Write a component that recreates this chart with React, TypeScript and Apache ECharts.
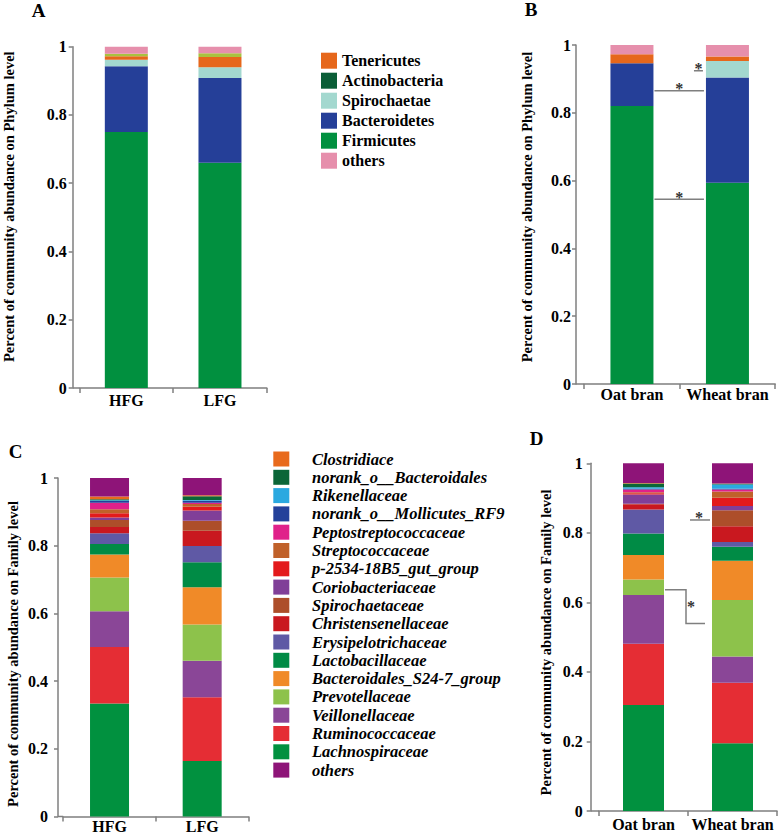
import React, { useEffect, useRef } from 'react';
import * as echarts from 'echarts';

const SERIF = '"Liberation Serif", "Times New Roman", Times, serif';
const AXIS = '#7f7f7f';

// ---------- data ----------
const catsA = ['HFG', 'LFG'];
const catsB = ['Oat bran', 'Wheat bran'];
const catsC = ['HFG', 'LFG'];
const catsD = ['Oat bran', 'Wheat bran'];

// phylum level, stacking order bottom -> top
const phyla = ['Firmicutes', 'Bacteroidetes', 'Spirochaetae', 'Tenericutes', 'Actinobacteria', 'others'];
const phylumColors = ['#01903f', '#253f98', '#a3d8cf', '#e6671b', '#a9c23f', '#e68fac'];
const phylumLegend = ['Tenericutes', 'Actinobacteria', 'Spirochaetae', 'Bacteroidetes', 'Firmicutes', 'others'];
const phylumLegendColors = ['#e6671b', '#0b5e37', '#a3d8cf', '#253f98', '#01903f', '#e68fac'];
const phylumHFG = [0.750, 0.193, 0.019, 0.010, 0.007, 0.021];
const phylumLFG = [0.660, 0.248, 0.032, 0.030, 0.011, 0.019];
const phylumOat = [0.820, 0.126, 0.000, 0.027, 0.000, 0.027];
const phylumWheat = [0.594, 0.310, 0.049, 0.013, 0.000, 0.034];

// family level, stacking order bottom -> top
const families = [
  'Lachnospiraceae', 'Ruminococcaceae', 'Veillonellaceae', 'Prevotellaceae',
  'Bacteroidales_S24-7_group', 'Lactobacillaceae', 'Erysipelotrichaceae', 'Christensenellaceae',
  'Spirochaetaceae', 'Coriobacteriaceae', 'p-2534-18B5_gut_group', 'Streptococcaceae',
  'Peptostreptococcaceae', 'norank_o__Mollicutes_RF9', 'Rikenellaceae', 'norank_o__Bacteroidales',
  'Clostridiace', 'others',
];
const familyColors = [
  '#01913f', '#e52d34', '#8a4697', '#8dc24b',
  '#f08a28', '#008b45', '#5f59a5', '#c9181f',
  '#ad4e2a', '#803f98', '#e31a1c', '#c0612a',
  '#e0218a', '#24419a', '#2aa9e0', '#0b6638',
  '#e86a1c', '#8e1478',
];
const familyLegend = [
  'Clostridiace', 'norank_o__Bacteroidales', 'Rikenellaceae', 'norank_o__Mollicutes_RF9',
  'Peptostreptococcaceae', 'Streptococcaceae', 'p-2534-18B5_gut_group', 'Coriobacteriaceae',
  'Spirochaetaceae', 'Christensenellaceae', 'Erysipelotrichaceae', 'Lactobacillaceae',
  'Bacteroidales_S24-7_group', 'Prevotellaceae', 'Veillonellaceae', 'Ruminococcaceae',
  'Lachnospiraceae', 'others',
];
const familyHFG = [0.334, 0.167, 0.105, 0.100, 0.068, 0.031, 0.032, 0.018, 0.021, 0.007, 0.013, 0.012, 0.019, 0.005, 0.002, 0.003, 0.008, 0.055];
const familyLFG = [0.164, 0.188, 0.108, 0.107, 0.110, 0.074, 0.048, 0.045, 0.030, 0.030, 0.011, 0.008, 0.004, 0.006, 0.002, 0.011, 0.003, 0.051];
const familyOat = [0.305, 0.176, 0.140, 0.045, 0.070, 0.062, 0.069, 0.015, 0.002, 0.026, 0.004, 0.003, 0.008, 0.002, 0.004, 0.011, 0.001, 0.057];
const familyWheat = [0.195, 0.174, 0.075, 0.163, 0.113, 0.040, 0.014, 0.045, 0.046, 0.012, 0.024, 0.018, 0.006, 0.002, 0.012, 0.002, 0.001, 0.058];

// significance marks (y values)
const sigSpanB = [0.865, 0.545];
const sigShortB = [0.924];
const sigLeadD = [0.837];
const sigElbowD = [0.636, 0.539];

const yNamePhylum = 'Percent of community abundance on Phylum level';
const yNameFamily = 'Percent of community abundance on Family level';

export default function App() {
  const ref = useRef<HTMLDivElement>(null);
  useEffect(() => {
    const chart = echarts.init(ref.current!, null, { renderer: 'svg' });

    const panels = [
      { cats: catsA, names: phyla, colors: phylumColors, values: [phylumHFG, phylumLFG], left: 79.5, width: 187.3, top: 46.7, height: 341.3, yOffset: 6.8, barWidth: 43, yMargin: 6, xMargin: 4 },
      { cats: catsB, names: phyla, colors: phylumColors, values: [phylumOat, phylumWheat], left: 584.2, width: 191, top: 45, height: 339, yOffset: 8.2, barWidth: 43, yMargin: 5, xMargin: 2 },
      { cats: catsC, names: families, colors: familyColors, values: [familyHFG, familyLFG], left: 63.2, width: 185.3, top: 478, height: 338.5, yOffset: 5.2, barWidth: 39, yMargin: 10, xMargin: 2 },
      { cats: catsD, names: families, colors: familyColors, values: [familyOat, familyWheat], left: 599, width: 178, top: 463.3, height: 347.7, yOffset: 8.3, barWidth: 41, yMargin: 8, xMargin: 5 },
    ];

    const labelFont = { color: '#000', fontFamily: SERIF, fontWeight: 'bold' as const, fontSize: 16 };

    const series: any[] = [];
    panels.forEach((p, i) => {
      p.names.forEach((name, k) => {
        series.push({
          type: 'bar', name, stack: 'S' + i, xAxisIndex: i, yAxisIndex: i,
          barWidth: p.barWidth,
          data: p.values.map((arr) => arr[k]),
          itemStyle: { color: p.colors[k] },
          silent: true,
        });
      });
    });

    chart.setOption({
      animation: false,
      grid: panels.map((p) => ({ left: p.left, top: p.top, width: p.width, height: p.height, containLabel: false, outerBoundsMode: 'none' })),
      xAxis: panels.map((p, i) => ({
        type: 'category', gridIndex: i, data: p.cats,
        axisLine: { show: true, lineStyle: { color: AXIS, width: 1.5 } },
        axisTick: { show: true, length: 5, lineStyle: { color: AXIS, width: 1.5 } },
        axisLabel: { ...labelFont, margin: p.xMargin, interval: 0 },
      })),
      yAxis: panels.map((p, i) => ({
        type: 'value', gridIndex: i, min: 0, max: 1, interval: 0.2, offset: p.yOffset,
        axisLine: { show: true, lineStyle: { color: AXIS, width: 1.5 } },
        axisTick: { show: true, length: 4, lineStyle: { color: AXIS, width: 1.5 } },
        splitLine: { show: false },
        axisLabel: { ...labelFont, margin: p.yMargin },
      })),
      legend: [
        {
          orient: 'vertical', left: 316, top: 47.7, itemWidth: 16, itemHeight: 16, itemGap: 4,
          icon: 'rect', selectedMode: false,
          data: phylumLegend.map((n, j) => ({ name: n, itemStyle: { color: phylumLegendColors[j], borderWidth: 0 } })),
          textStyle: { color: '#000', fontFamily: SERIF, fontWeight: 'bold', fontSize: 16, lineHeight: 16 },
        },
        {
          orient: 'vertical', left: 268.3, top: 445.5, itemWidth: 16, itemHeight: 15, itemGap: 1.3,
          icon: 'rect', selectedMode: false,
          data: familyLegend.map((n) => ({ name: n, itemStyle: { color: familyColors[families.indexOf(n)], borderWidth: 0 } })),
          textStyle: { color: '#000', fontFamily: SERIF, fontWeight: 'bold', fontStyle: 'italic', fontSize: 16.5, lineHeight: 16.5, padding: [0, 0, 0, 17.7] },
        },
      ],
      series,
    });

    const px = (i: number, c: number, v: number) => chart.convertToPixel({ xAxisIndex: i, yAxisIndex: i } as any, [c, v]) as number[];
    const lineStyle = { stroke: AXIS, lineWidth: 1.5, fill: 'none' };
    const starStyle = (x: number, y: number) => ({
      type: 'text', x, y: y - 2,
      style: { text: '*', fill: '#333', font: 'bold 16px ' + SERIF, textAlign: 'center', textVerticalAlign: 'middle' },
    });
    const g: any[] = [];

    // panel letters
    const letters: [string, number, number][] = [['A', 38.5, 10], ['B', 531, 9.5], ['C', 15.5, 451], ['D', 536.7, 438]];
    letters.forEach(([t, x, y]) => g.push({
      type: 'text', x, y,
      style: { text: t, fill: '#000', font: 'bold 19px ' + SERIF, textAlign: 'center', textVerticalAlign: 'middle' },
    }));

    // y axis names
    const yNames: [string, number, number][] = [[yNamePhylum, 8.5, 206.7], [yNamePhylum, 526.5, 207], [yNameFamily, 13, 654], [yNameFamily, 546, 642.5]];
    yNames.forEach(([t, x, y]) => g.push({
      type: 'text', x, y, rotation: Math.PI / 2,
      style: { text: t, fill: '#000', font: 'bold 14.5px ' + SERIF, textAlign: 'center', textVerticalAlign: 'middle' },
    }));

    // extend x axis line to the y axis
    panels.forEach((p, i) => {
      const y0 = px(i, 0, 0)[1];
      const gx = p.left;
      g.push({ type: 'line', shape: { x1: gx - p.yOffset, y1: y0, x2: gx, y2: y0 }, style: lineStyle });
    });

    // significance marks, panel B
    {
      const bw = panels[1].barWidth / 2;
      sigSpanB.forEach((v) => {
        const [c1, y] = px(1, 0, v);
        const [c2] = px(1, 1, v);
        const xa = c1 + bw + 1, xb = c2 - bw - 2;
        g.push({ type: 'line', shape: { x1: xa, y1: y, x2: xb, y2: y }, style: lineStyle });
        g.push(starStyle((xa + xb) / 2, y));
      });
      sigShortB.forEach((v) => {
        const [c2, y] = px(1, 1, v);
        const xa = c2 - bw - 12, xb = c2 - bw - 3;
        g.push({ type: 'line', shape: { x1: xa, y1: y, x2: xb, y2: y }, style: lineStyle });
        g.push(starStyle((xa + xb) / 2, y));
      });
    }
    // significance marks, panel D
    {
      const bw = panels[3].barWidth / 2;
      sigLeadD.forEach((v) => {
        const [c2, y] = px(3, 1, v);
        const xa = c2 - bw - 22, xb = c2 - bw - 2;
        g.push({ type: 'line', shape: { x1: xa, y1: y, x2: xb, y2: y }, style: lineStyle });
        g.push(starStyle((xa + xb) / 2 - 1, y));
      });
      const [c1, ya] = px(3, 0, sigElbowD[0]);
      const [c2, yb] = px(3, 1, sigElbowD[1]);
      const xs = c1 + bw + 1, xm = c1 + bw + 22, xe = c2 - bw - 7;
      g.push({ type: 'polyline', shape: { points: [[xs, ya], [xm, ya], [xm, yb], [xe, yb]] }, style: lineStyle });
      g.push(starStyle(xm + 5, (ya + yb) / 2 + 2));
    }

    chart.setOption({ graphic: g });

    return () => chart.dispose();
  }, []);

  return <div ref={ref} style={{ position: 'absolute', left: 0, top: 0, width: 778, height: 836 }} />;
}
